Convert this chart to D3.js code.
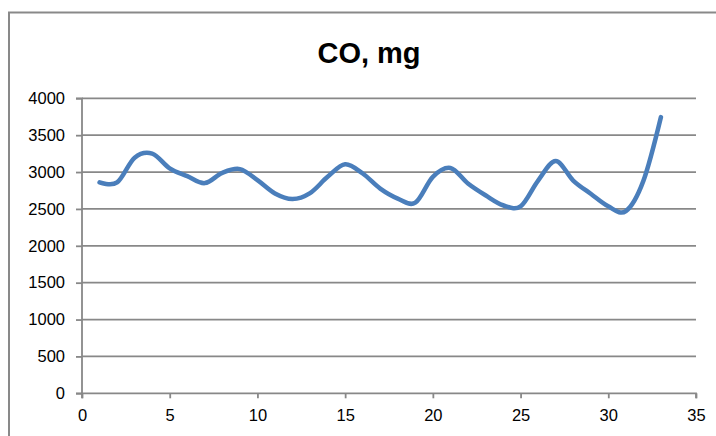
<!DOCTYPE html>
<html>
<head>
<meta charset="utf-8">
<script src="https://cdn.jsdelivr.net/npm/d3@7"></script>
<style>
  html, body { margin: 0; padding: 0; background: #fff; }
  svg { display: block; }
</style>
</head>
<body>
<svg id="chart" width="716" height="436"></svg>
<script>
// Measurement index (x) and CO mass in mg (y)
const runs = d3.range(1, 34);
const coMg = [
  2860, 2860, 3195, 3250, 3050, 2945, 2850, 2990, 3040, 2890,
  2710, 2635, 2715, 2935, 3105, 2980, 2775, 2640, 2585, 2935,
  3055, 2845, 2685, 2550, 2535, 2885, 3150, 2885, 2705, 2535,
  2470, 2880, 3745
];
const xTicks = [0, 5, 10, 15, 20, 25, 30, 35];
const yTicks = [0, 500, 1000, 1500, 2000, 2500, 3000, 3500, 4000];
const title = "CO, mg";

const svg = d3.select("#chart");
const W = 716, H = 436;
const plot = { left: 82, right: 696, top: 98.3, bottom: 393.3 };
const axisGrey = "#888888";
const fontFam = "Liberation Sans, Arial, sans-serif";

// chart frame
svg.append("path")
  .attr("d", `M9,${H + 2} V12.5 H${W + 2}`)
  .attr("fill", "none")
  .attr("stroke", "#898989")
  .attr("stroke-width", 2);

svg.append("text")
  .attr("x", 369)
  .attr("y", 63)
  .attr("text-anchor", "middle")
  .attr("font-family", fontFam)
  .attr("font-weight", "bold")
  .attr("font-size", 29)
  .attr("fill", "#000")
  .text(title);

const x = d3.scaleLinear().domain([0, 35]).range([plot.left, plot.right]);
const y = d3.scaleLinear().domain([0, 4000]).range([plot.bottom, plot.top]);

// horizontal gridlines
svg.append("g")
  .selectAll("line")
  .data(yTicks.filter(v => v > 0))
  .join("line")
  .attr("x1", plot.left)
  .attr("x2", plot.right)
  .attr("y1", d => y(d))
  .attr("y2", d => y(d))
  .attr("stroke", axisGrey)
  .attr("stroke-width", 1.8);

// y axis
const yAxis = svg.append("g")
  .attr("transform", `translate(${plot.left},0)`)
  .call(d3.axisLeft(y).tickValues(yTicks).tickSize(6).tickPadding(11).tickFormat(d3.format("d")));
yAxis.select(".domain").attr("stroke", axisGrey).attr("stroke-width", 1.8).attr("d", `M-6,${plot.top}H0V${plot.bottom}H-6`);
yAxis.selectAll(".tick line").attr("stroke", axisGrey).attr("stroke-width", 1.8);
yAxis.selectAll(".tick text")
  .attr("font-family", fontFam)
  .attr("font-size", 16.5)
  .attr("fill", "#000");

// x axis
const xAxis = svg.append("g")
  .attr("transform", `translate(0,${plot.bottom})`)
  .call(d3.axisBottom(x).tickValues(xTicks).tickSize(5).tickPadding(11).tickFormat(d3.format("d")));
xAxis.select(".domain").attr("stroke", axisGrey).attr("stroke-width", 1.8).attr("d", `M${plot.left},5V0H${plot.right}V5`);
xAxis.selectAll(".tick line").attr("stroke", axisGrey).attr("stroke-width", 1.8);
xAxis.selectAll(".tick text")
  .attr("font-family", fontFam)
  .attr("font-size", 16.5)
  .attr("fill", "#000");

// smoothed series line
const line = d3.line()
  .x((d, i) => x(runs[i]))
  .y(d => y(d))
  .curve(d3.curveCardinal.tension(0));

svg.append("path")
  .datum(coMg)
  .attr("d", line)
  .attr("fill", "none")
  .attr("stroke", "#4a7ebb")
  .attr("stroke-width", 4.5)
  .attr("stroke-linecap", "round")
  .attr("stroke-linejoin", "round");
</script>
</body>
</html>
